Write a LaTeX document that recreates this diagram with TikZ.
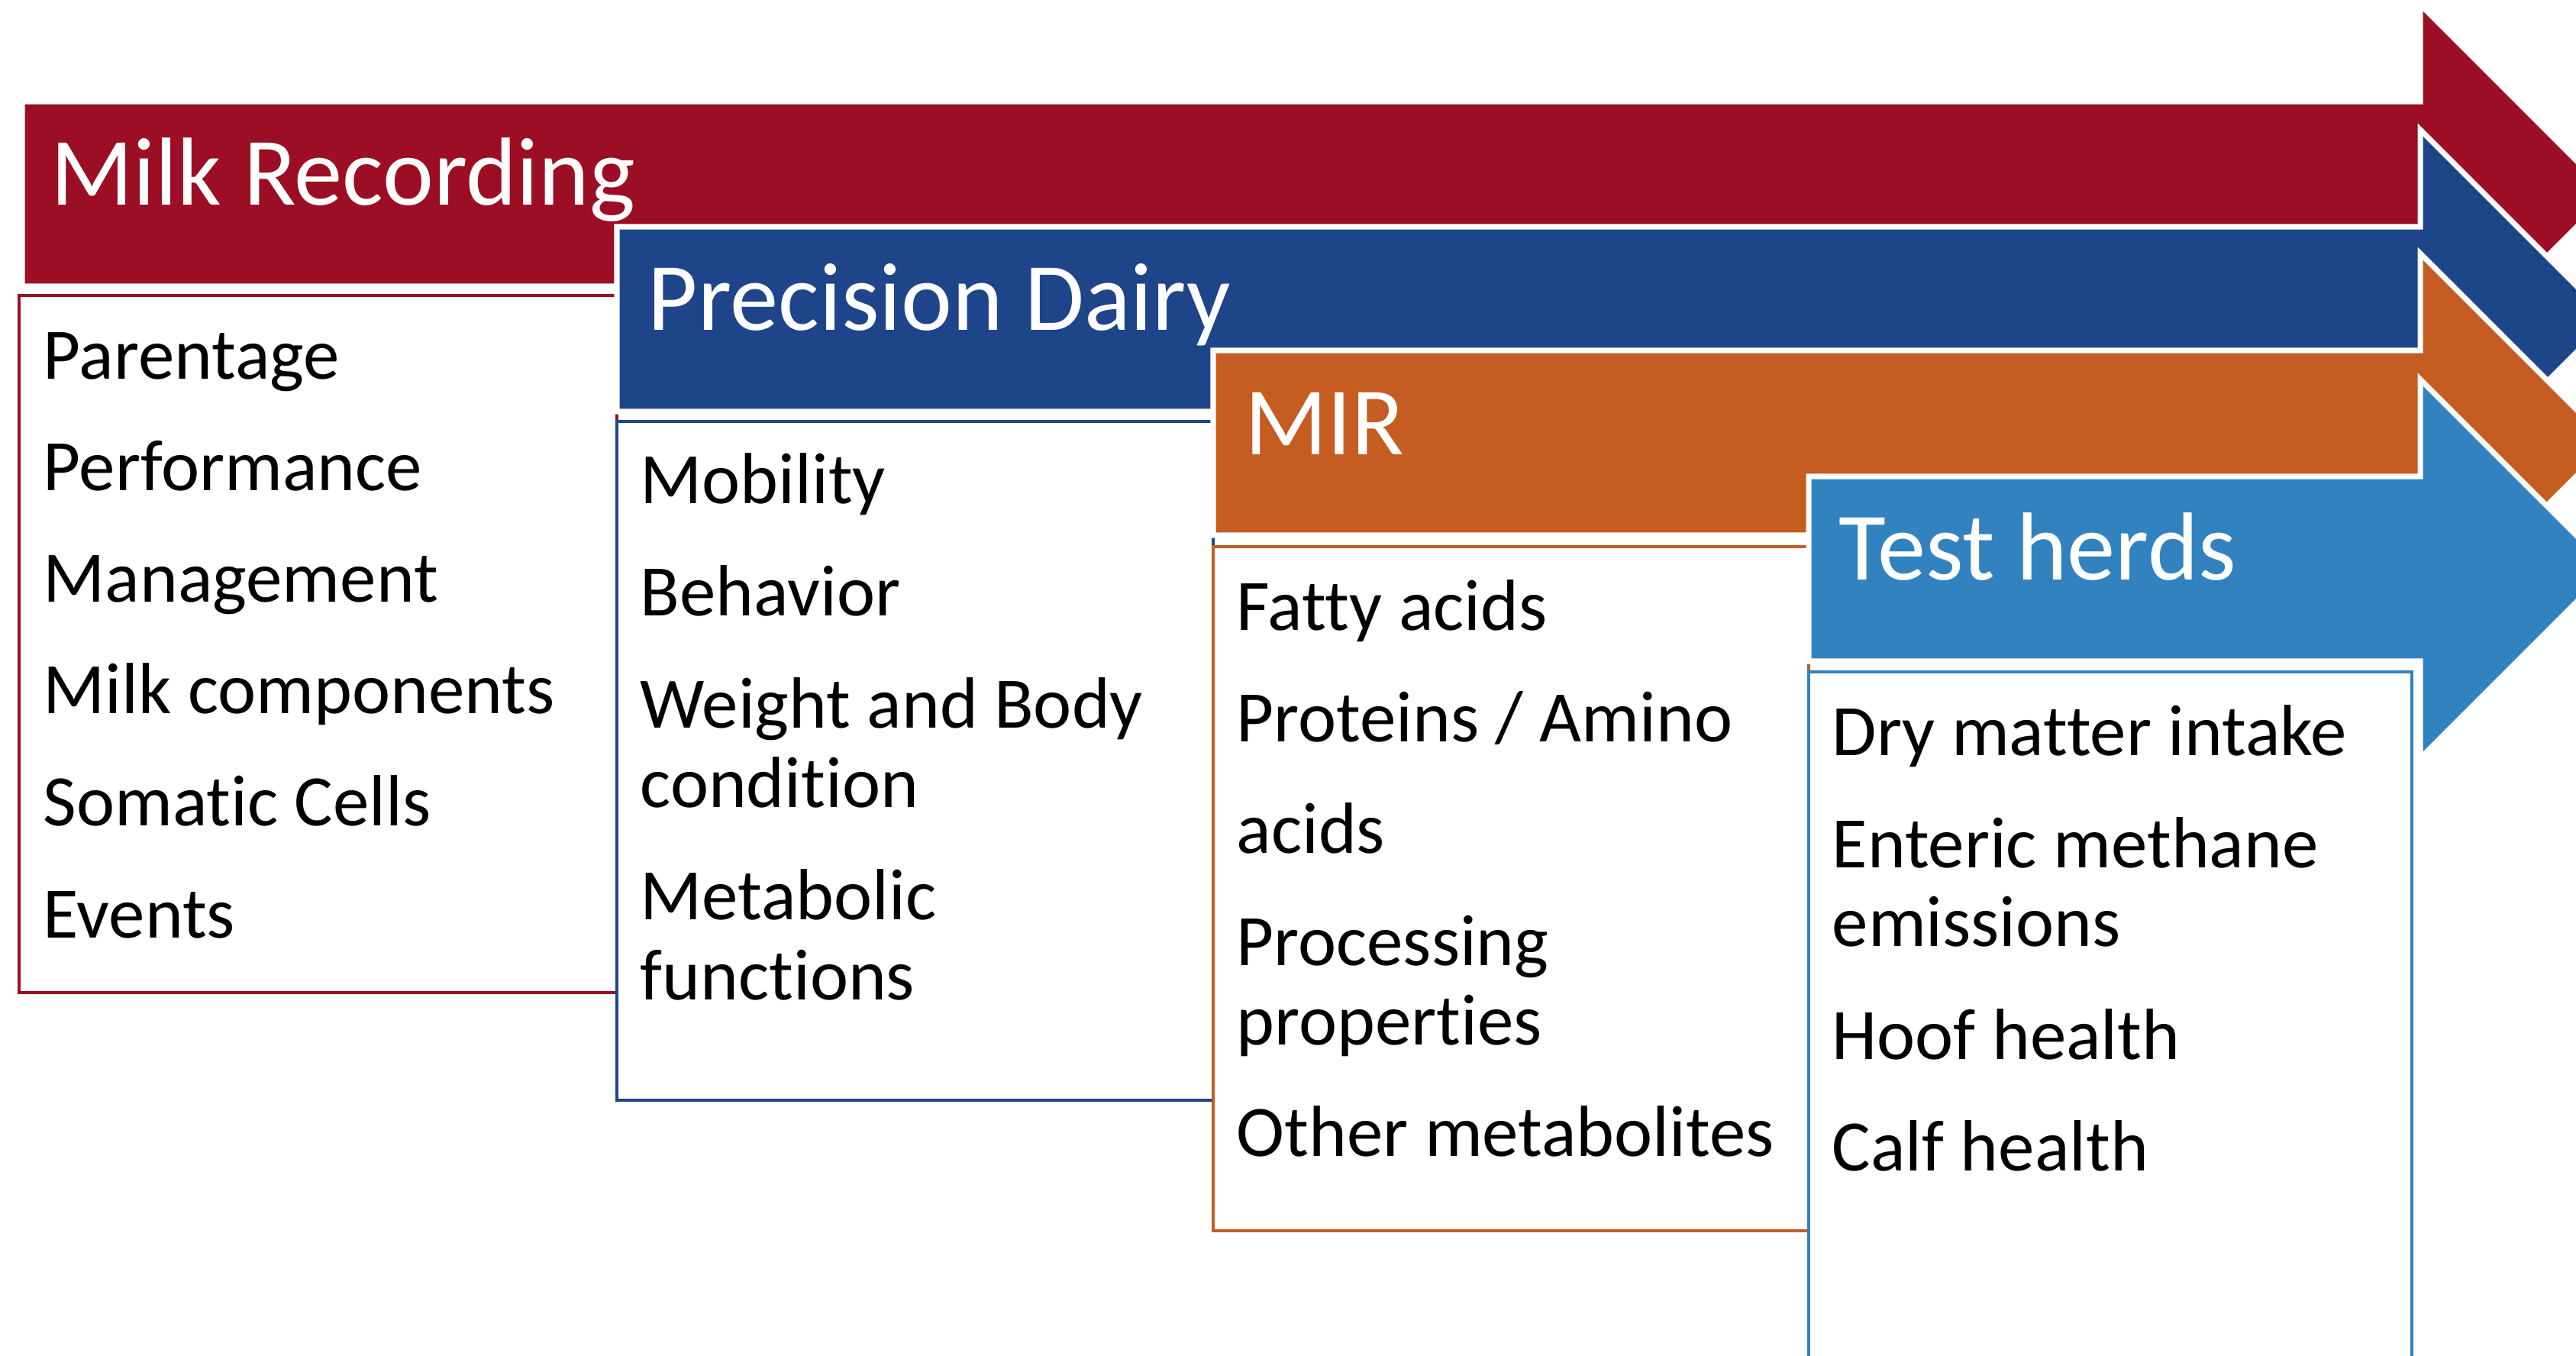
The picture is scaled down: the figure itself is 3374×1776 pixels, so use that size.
\documentclass[tikz,border=0pt]{standalone}
\usepackage{fontspec}
\setmainfont{Carlito}[Ligatures={NoCommon}]
\usepackage{xcolor}
\usepackage{tikz}

\definecolor{mrred}{RGB}{155,14,35}
\definecolor{pdblue}{RGB}{30,69,137}
\definecolor{mirorange}{RGB}{197,92,34}
\definecolor{thblue}{RGB}{50,130,191}

% colour, left x, top y
\newcommand{\stagearrow}[3]{%
  \filldraw[fill=#1,draw=white,line width=2pt] (#2,#3) -- (3170,#3) -- (3170,#3-127)
    -- (3418,#3+121) -- (3170,#3+369) -- (3170,#3+242) -- (#2,#3+242) -- cycle;}

\begin{document}
\begin{tikzpicture}[x=0.01cm,y=-0.01cm,
  head/.style={text=white,font=\fontsize{36}{43}\selectfont,anchor=base west,inner sep=0},
  item/.style={font=\fontsize{27}{32}\selectfont,anchor=base west,inner sep=0},
  box/.style={fill=white,line width=1.4pt}]
\useasboundingbox (0,0) rectangle (3374,1776);
\clip (0,0) rectangle (3374,1776);

% Milk Recording
\stagearrow{mrred}{29}{133}
\node[head] (mr) at (66,269) {Milk Recording};
\draw[box,draw=mrred] (25,387) rectangle (808,1300);
\node[item] (mr1) at (56,497) {Parentage};
\node[item] (mr2) at (56,643) {Performance};
\node[item] (mr3) at (56,789) {Management};
\node[item] (mr4) at (56,935) {Milk components};
\node[item] (mr5) at (56,1081) {Somatic Cells};
\node[item] (mr6) at (56,1228) {Events};

% Precision Dairy
\stagearrow{pdblue}{808}{297}
\node[head] (pd) at (848,433) {Precision Dairy};
\draw[box,draw=pdblue] (808,552) rectangle (1589,1441);
\node[item] (pd1) at (838,660) {Mobility};
\node[item] (pd2) at (838,807) {Behavior};
\node[item] (pd3) at (838,953) {Weight and Body};
\node[item] (pd4) at (838,1057) {condition};
\node[item] (pd5) at (838,1204) {Metabolic};
\node[item] (pd6) at (838,1309) {functions};

% MIR
\stagearrow{mirorange}{1589}{459}
\node[head] (mir) at (1630,596) {MIR};
\draw[box,draw=mirorange] (1589,716) rectangle (2369,1612);
\node[item] (mir1) at (1619,826) {Fatty acids};
\node[item] (mir2) at (1619,971) {Proteins / Amino};
\node[item] (mir3) at (1619,1117) {acids};
\node[item] (mir4) at (1619,1264) {Processing};
\node[item] (mir5) at (1619,1368) {properties};
\node[item] (mir6) at (1619,1514) {Other metabolites};

% Test herds
\stagearrow{thblue}{2369}{624}
\node[head] (th) at (2408,760) {Test herds};
\draw[box,draw=thblue] (2369,880) rectangle (3159,1830);
\node[item] (th1) at (2399,989) {Dry matter intake};
\node[item] (th2) at (2399,1136) {Enteric methane};
\node[item] (th3) at (2399,1239) {emissions};
\node[item] (th4) at (2399,1387) {Hoof health};
\node[item] (th5) at (2399,1533) {Calf health};
\end{tikzpicture}
\end{document}
